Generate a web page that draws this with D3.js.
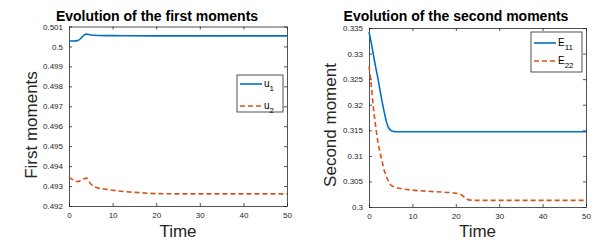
<!DOCTYPE html>
<html>
<head>
<meta charset="utf-8">
<script src="https://cdn.jsdelivr.net/npm/d3@7"></script>
<style>
  body { margin: 0; background: #fff; }
  svg { font-family: "Liberation Sans", Arial, sans-serif; }
</style>
</head>
<body>
<svg id="chart" width="613" height="242"></svg>
<script>
// ---------- data ---------- //
var timeTicks = [0, 10, 20, 30, 40, 50];

var u1T = [0, 1, 2, 2.5, 3, 3.5, 4, 5, 7, 10, 20, 30, 40, 50];
var u1V = [0.50027, 0.50027, 0.50029, 0.50036, 0.50048, 0.50058, 0.50062, 0.50057, 0.50055, 0.50054, 0.50053, 0.50053, 0.50053, 0.50053];

var u2T = [0, 1, 2, 3, 4, 5, 6, 8, 10, 13, 16, 20, 25, 30, 40, 50];
var u2V = [0.49345, 0.49330, 0.49322, 0.49332, 0.49340, 0.49310, 0.49295, 0.49285, 0.49279, 0.49272, 0.49267, 0.49262, 0.49261, 0.49261, 0.49261, 0.49261];

var e11T = [0, 0.5, 1, 1.5, 2, 2.5, 3, 3.5, 4, 4.5, 5, 5.5, 6, 10, 20, 30, 40, 50];
var e11V = [0.3342, 0.3322, 0.3298, 0.3275, 0.3254, 0.3230, 0.3207, 0.3186, 0.3167, 0.3155, 0.3150, 0.3148, 0.3147, 0.3147, 0.3147, 0.3147, 0.3147, 0.3147];

var e22T = [0, 0.5, 1, 1.5, 2, 2.5, 3, 3.5, 4, 4.5, 5, 6, 8, 10, 15, 20, 21, 22, 23, 25, 30, 40, 50];
var e22V = [0.3275, 0.3240, 0.3195, 0.3160, 0.3130, 0.3108, 0.3090, 0.3072, 0.3060, 0.3050, 0.3043, 0.3039, 0.3035, 0.3033, 0.3030, 0.3027, 0.3025, 0.3019, 0.3014, 0.3013, 0.3013, 0.3013, 0.3013];

var firstTicks = [0.492, 0.493, 0.494, 0.495, 0.496, 0.497, 0.498, 0.499, 0.5, 0.501];
var secondTicks = [0.3, 0.305, 0.31, 0.315, 0.32, 0.325, 0.33, 0.335];

var blue = "#0072BD", orange = "#D95319";

var svg = d3.select("#chart");

function zip(t, v){ return t.map(function(d, i){ return [d, v[i]]; }); }

function panel(opt){
    var x = d3.scaleLinear().domain([0, 50]).range([opt.x0, opt.x1]);
    var y = d3.scaleLinear().domain(opt.yDomain).range([opt.y1, opt.y0]);
    var g = svg.append("g");

    // axes with inward ticks, box mirrored
    g.append("g")
        .attr("transform", "translate(0," + opt.y1 + ")")
        .call(d3.axisBottom(x).tickValues(timeTicks).tickSizeInner(-3).tickSizeOuter(0).tickPadding(6).tickFormat(d3.format("d")));
    g.append("g")
        .attr("transform", "translate(0," + opt.y0 + ")")
        .call(d3.axisTop(x).tickValues(timeTicks).tickSizeInner(-3).tickSizeOuter(0).tickFormat(""));
    g.append("g")
        .attr("transform", "translate(" + opt.x0 + ",0)")
        .call(d3.axisLeft(y).tickValues(opt.yTicks).tickSizeInner(-3).tickSizeOuter(0).tickPadding(6).tickFormat(function(d){ return +d.toFixed(3) + ""; }));
    g.append("g")
        .attr("transform", "translate(" + opt.x1 + ",0)")
        .call(d3.axisRight(y).tickValues(opt.yTicks).tickSizeInner(-3).tickSizeOuter(0).tickFormat(""));

    g.selectAll(".domain").attr("stroke", "#262626").attr("stroke-width", 0.8);
    g.selectAll(".tick line").attr("stroke", "#262626").attr("stroke-width", 0.8);
    g.selectAll(".tick text").attr("font-size", 8).attr("fill", "#262626")
        .attr("font-family", "Liberation Sans, Arial, sans-serif");

    var line = d3.line()
        .x(function(d){ return x(d[0]); })
        .y(function(d){ return y(d[1]); })
        .curve(d3.curveMonotoneX);

    g.append("path")
        .datum(zip(opt.aT, opt.aV))
        .attr("fill", "none").attr("stroke", blue).attr("stroke-width", 1.6)
        .attr("d", line);
    g.append("path")
        .datum(zip(opt.bT, opt.bV))
        .attr("fill", "none").attr("stroke", orange).attr("stroke-width", 1.6)
        .attr("stroke-dasharray", "5,3")
        .attr("d", line);

    // titles and labels
    g.append("text")
        .attr("x", opt.titleX).attr("y", 21)
        .attr("text-anchor", "middle").attr("font-size", 14).attr("font-weight", "bold")
        .attr("fill", "#000")
        .text(opt.title);
    g.append("text")
        .attr("x", (opt.x0 + opt.x1) / 2).attr("y", 237)
        .attr("text-anchor", "middle").attr("font-size", 17).attr("fill", "#262626")
        .text("Time");
    g.append("text")
        .attr("transform", "translate(" + opt.ylabX + ",125) rotate(-90)")
        .attr("text-anchor", "middle").attr("font-size", 17).attr("fill", "#262626")
        .text(opt.ylabel);

    // legend
    var L = opt.legend;
    g.append("rect")
        .attr("x", L.x).attr("y", L.y).attr("width", L.w).attr("height", L.h)
        .attr("fill", "#fff").attr("stroke", "#262626").attr("stroke-width", 0.8);
    L.items.forEach(function(it, i){
        var yy = L.y + L.first + i * L.gap;
        g.append("line")
            .attr("x1", L.x + 3).attr("x2", L.x + 25).attr("y1", yy).attr("y2", yy)
            .attr("stroke", i === 0 ? blue : orange).attr("stroke-width", 1.6)
            .attr("stroke-dasharray", i === 0 ? null : "5,3");
        var t = g.append("text")
            .attr("x", L.x + 27).attr("y", yy + 3)
            .attr("font-size", 10).attr("fill", "#000");
        t.append("tspan").text(it[0]);
        t.append("tspan").attr("dy", 4).attr("font-size", 8).text(it[1]);
    });
}

panel({
    x0: 69, x1: 287, y0: 26.5, y1: 206,
    yDomain: [0.492, 0.501], yTicks: firstTicks,
    aT: u1T, aV: u1V, bT: u2T, bV: u2V,
    title: "Evolution of the first moments", titleX: 157,
    ylabel: "First moments", ylabX: 37,
    legend: { x: 237, y: 75, w: 46, h: 37, first: 9, gap: 22, items: [["u", "1"], ["u", "2"]] }
});

panel({
    x0: 369, x1: 586, y0: 28, y1: 207,
    yDomain: [0.3, 0.335], yTicks: secondTicks,
    aT: e11T, aV: e11V, bT: e22T, bV: e22V,
    title: "Evolution of the second moments", titleX: 456,
    ylabel: "Second moment", ylabX: 336,
    legend: { x: 531, y: 32, w: 51, h: 40, first: 11, gap: 18, items: [["E", "11"], ["E", "22"]] }
});
</script>
</body>
</html>
